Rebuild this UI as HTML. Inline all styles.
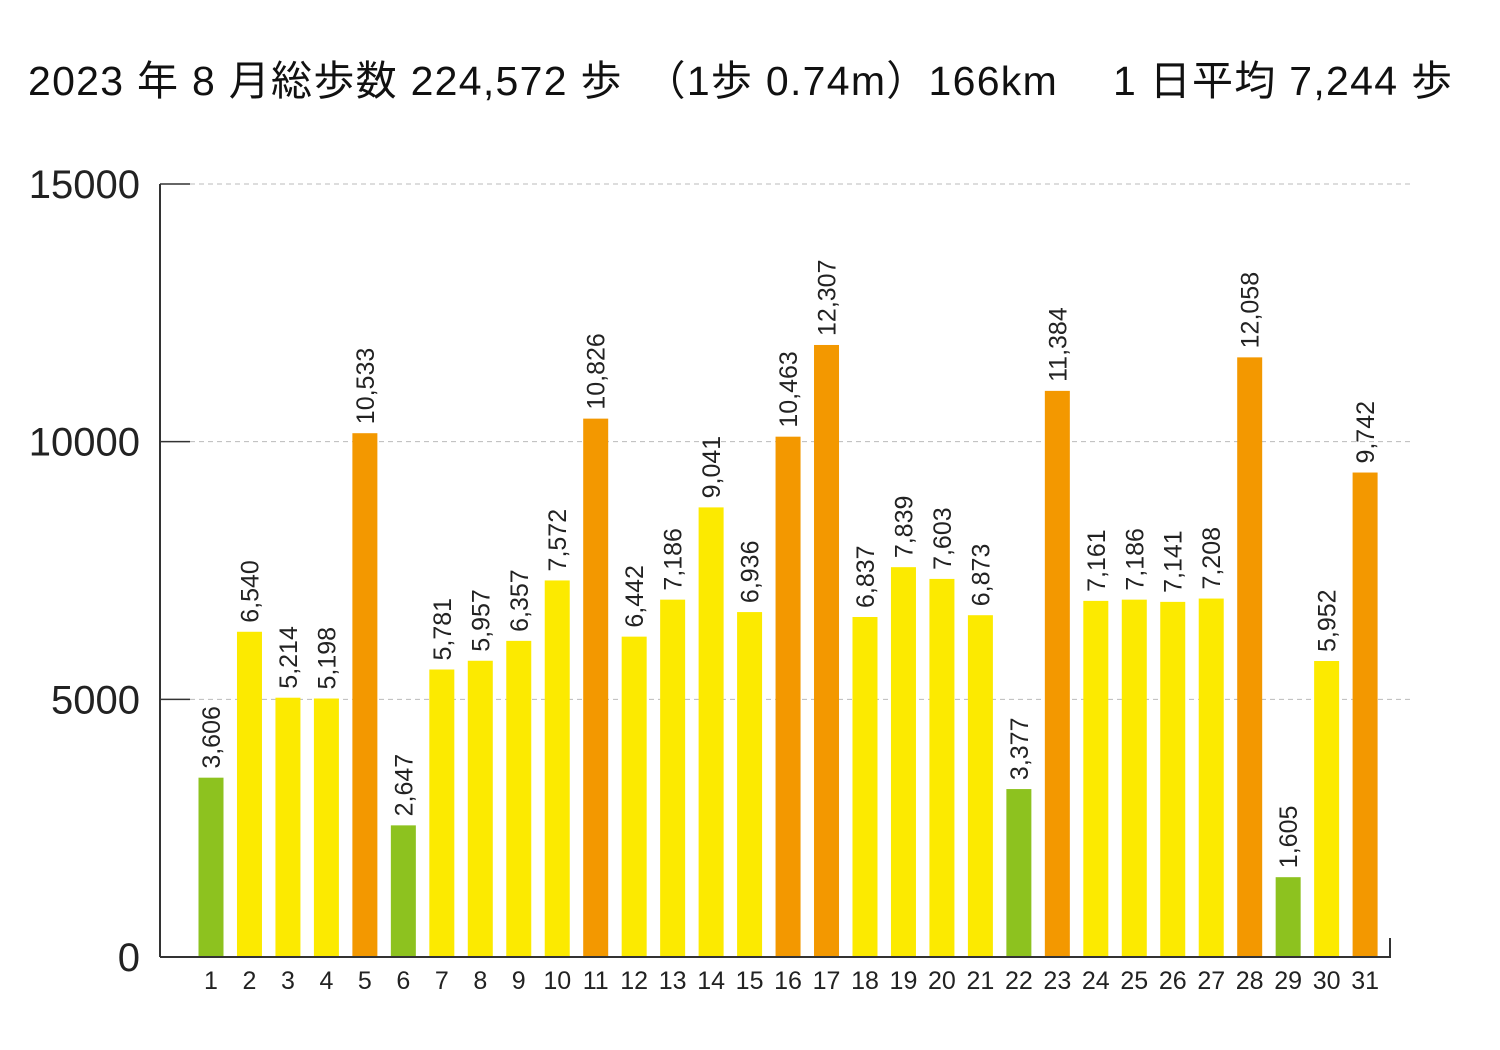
<!DOCTYPE html>
<html><head><meta charset="utf-8">
<style>
body{margin:0;background:#fff;}
svg{display:block;font-family:"Liberation Sans","Noto Sans CJK JP",sans-serif;}
</style></head>
<body>
<svg id="chart" width="1500" height="1050" viewBox="0 0 1500 1050">
<rect width="1500" height="1050" fill="#fff"/>
<text x="28" y="95" font-size="41" fill="#111" textLength="1424" lengthAdjust="spacing">2023 年 8 月総歩数 224,572 歩　（1歩 0.74m）166km　 1 日平均 7,244 歩</text>
<g id="grid"></g>
<g id="bars"></g>
<g id="axes"></g>
</svg>
<script>
const days = ["1","2","3","4","5","6","7","8","9","10","11","12","13","14","15","16","17","18","19","20","21","22","23","24","25","26","27","28","29","30","31"];
const steps = [3606,6540,5214,5198,10533,2647,5781,5957,6357,7572,10826,6442,7186,9041,6936,10463,12307,6837,7839,7603,6873,3377,11384,7161,7186,7141,7208,12058,1605,5952,9742];
const yTicks = [0,5000,10000,15000];
const NS="http://www.w3.org/2000/svg";
const y0=957, ppu=(957-184)/15000;
const y = v => y0 - v*ppu;
const yBar = v => y0 - v*ppu*0.965;
const x = i => 211 + i*38.47;
function mk(t,a,p){const e=document.createElementNS(NS,t);for(const k in a)e.setAttribute(k,a[k]);p.appendChild(e);return e;}
const grid=document.getElementById('grid'),bars=document.getElementById('bars'),axes=document.getElementById('axes');
yTicks.forEach(v=>{
  if(v>0){const g=mk('line',{x1:190,x2:1410,y1:y(v),y2:y(v),stroke:'#bbb','stroke-width':1,'stroke-dasharray':'5,4'},grid);
  
  }
  const tk=mk('line',{x1:160,x2:190,y1:y(v),y2:y(v),stroke:'#333','stroke-width':1.5},axes);
  
  
  const t=mk('text',{x:140,y:y(v)+14,'text-anchor':'end','font-size':40,fill:'#222'},axes);
  t.textContent=v;
  
  
});
const ya=mk('line',{x1:160,x2:160,y1:184,y2:957,stroke:'#333','stroke-width':2},axes);


const xa=mk('line',{x1:160,x2:1391,y1:957,y2:957,stroke:'#333','stroke-width':2},axes);


const xe=mk('line',{x1:1390,x2:1390,y1:938,y2:957,stroke:'#333','stroke-width':2},axes);


steps.forEach((v,i)=>{
  const col = v<4000?'#8dc21f':(v>=9500?'#f39800':'#fcea00');
  const top=yBar(v);
  const r=mk('rect',{x:x(i)-12.5,y:top,width:25,height:y0-top,fill:col},bars);
  
  
  const lx=x(i)+9, ly=top-9;
  const t=mk('text',{x:lx,y:ly,'font-size':25,fill:'#222',transform:'rotate(-90 '+lx+' '+ly+')'},bars);
  t.textContent=v.toLocaleString('en-US');
  
  
  const d=mk('text',{x:x(i),y:989,'text-anchor':'middle','font-size':25,fill:'#222'},axes);
  d.textContent=days[i];
  
  
});
</script>
</body></html>
